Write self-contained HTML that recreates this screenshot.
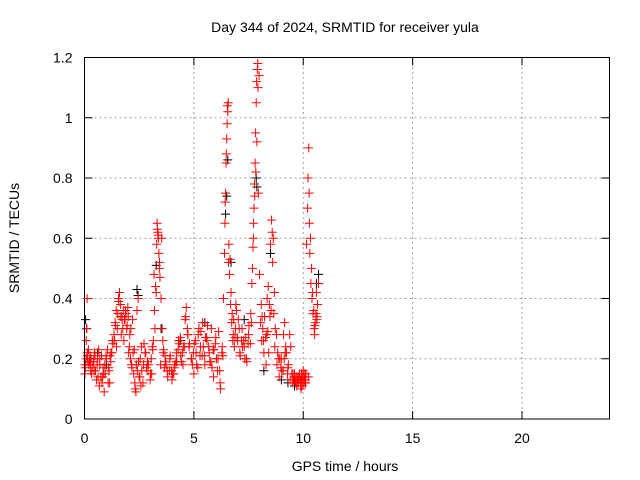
<!DOCTYPE html>
<html><head><meta charset="utf-8"><style>
body{margin:0;background:#fff;}
svg{display:block;font-family:"Liberation Sans",sans-serif;}
</style></head><body>
<svg id="chart" width="640" height="480">
<text x="345" y="32" text-anchor="middle" font-size="14">Day 344 of 2024, SRMTID for receiver yula</text>
<text x="345" y="471" text-anchor="middle" font-size="14">GPS time / hours</text>
<text transform="translate(19,238) rotate(-90)" text-anchor="middle" font-size="14">SRMTID / TECUs</text>
<g id="grid"></g><g id="ticks"></g><g id="pts"></g>
<rect x="84.5" y="57.5" width="525" height="361.5" fill="none" stroke="#000" stroke-width="1"/>
</svg>
<script>
const xTicks=[0,5,10,15,20];
const yTicks=[0,0.2,0.4,0.6,0.8,1,1.2];
const yTickLabels=["0","0.2","0.4","0.6","0.8","1","1.2"];
const redT=[0.02,0.05,0.08,0.1,0.12,0.15,0.2,0.25,0.3,0.35,0.4,0.45,0.5,0.55,0.6,0.65,0.7,0.75,0.8,0.85,0.9,0.95,1.0,1.05,1.1,1.15,1.2,1.25,1.3,1.35,1.4,1.45,1.5,1.55,1.6,1.65,1.7,1.75,1.8,1.85,1.9,1.95,2.0,2.05,2.1,2.15,2.2,2.25,2.3,2.35,2.4,2.45,2.5,2.55,2.6,2.7,2.8,2.9,3.0,3.05,3.1,3.15,3.2,3.25,3.3,3.32,3.35,3.38,3.4,3.42,3.45,3.5,3.55,3.6,3.65,3.7,3.8,3.9,4.0,4.1,4.2,4.3,4.4,4.5,4.6,4.65,4.7,4.8,4.9,5.0,5.1,5.2,5.3,5.4,5.5,5.6,5.7,5.8,5.9,6.0,6.1,6.2,6.3,6.35,6.4,6.42,6.45,6.47,6.5,6.52,6.55,6.57,6.6,6.65,6.7,6.75,6.8,6.85,6.9,6.95,7.0,7.1,7.2,7.3,7.4,7.5,7.6,7.65,7.7,7.72,7.75,7.77,7.8,7.82,7.85,7.87,7.9,7.92,7.95,8.0,8.05,8.1,8.15,8.2,8.3,8.35,8.4,8.45,8.5,8.55,8.58,8.6,8.65,8.7,8.8,8.9,9.0,9.1,9.15,9.2,9.3,9.4,9.5,9.6,9.7,9.8,9.9,10.0,10.05,10.1,10.15,10.2,10.22,10.25,10.28,10.3,10.35,10.4,10.45,10.5,10.55,10.6,10.65,10.7,
0.07,0.18,0.28,0.42,0.62,0.78,0.93,1.08,1.22,1.38,1.52,1.68,1.82,1.98,2.12,2.28,2.42,2.58,2.72,2.88,3.02,3.18,3.48,3.62,3.78,3.92,4.08,4.22,4.38,4.52,4.72,4.88,5.02,5.18,5.32,5.48,5.62,5.78,5.92,6.08,6.22,6.68,6.82,6.98,7.12,7.28,7.42,7.58,8.12,8.28,8.42,8.72,8.88,9.02,9.18,9.32,9.48,9.62,9.78,9.92,10.02,10.08,9.85,9.95,10.12,10.52,10.58,10.62,
0.03,0.13,0.23,0.33,0.48,0.58,0.68,0.83,0.98,1.12,1.27,1.42,1.57,1.72,1.87,2.02,2.17,2.32,2.47,2.62,2.77,2.92,3.07,3.22,3.33,3.37,3.43,3.58,3.73,3.88,4.03,4.18,4.33,4.48,4.63,4.78,4.93,5.08,5.23,5.38,5.53,5.68,5.83,5.98,6.13,6.28,6.43,6.48,6.53,6.58,6.63,6.73,6.88,7.03,7.18,7.33,7.48,7.63,7.68,7.73,7.78,7.83,7.88,7.93,7.98,8.08,8.23,8.38,8.53,8.63,8.78,8.93,9.08,9.23,9.38,9.53,9.58,9.68,9.73,9.83,9.88,9.93,9.97,10.03,10.07,10.11,10.23,10.27,10.33,10.38,10.43,10.48,10.53,10.63,
0.12,0.27,0.44,0.7,0.88,1.17,1.46,1.63,1.77,1.93,2.07,2.22,2.37,2.53,2.67,2.83,3.12,3.28,3.53,3.68,3.98,4.13,4.28,4.43,4.58,4.73,4.98,5.13,5.28,5.43,5.58,5.73,5.88,6.03,6.18,6.33,6.78,6.92,7.07,7.22,7.37,7.52,8.18,8.33,8.48,8.68,8.83,8.98,9.13,9.28,9.43,9.55,9.65,9.75,9.9,10.0,10.1];
const redV=[0.15,0.17,0.26,0.30,0.21,0.19,0.18,0.21,0.20,0.17,0.19,0.22,0.16,0.13,0.20,0.23,0.18,0.14,0.12,0.17,0.09,0.15,0.20,0.23,0.17,0.12,0.19,0.22,0.25,0.28,0.32,0.36,0.30,0.40,0.42,0.38,0.34,0.30,0.26,0.33,0.35,0.31,0.34,0.24,0.20,0.18,0.33,0.15,0.12,0.09,0.36,0.40,0.14,0.20,0.24,0.18,0.22,0.16,0.13,0.20,0.24,0.26,0.36,0.44,0.58,0.65,0.62,0.60,0.55,0.50,0.47,0.40,0.30,0.22,0.17,0.19,0.14,0.20,0.13,0.17,0.22,0.26,0.21,0.18,0.33,0.37,0.30,0.25,0.20,0.15,0.22,0.28,0.24,0.32,0.18,0.26,0.22,0.30,0.14,0.27,0.20,0.12,0.24,0.40,0.55,0.65,0.75,0.85,0.93,0.98,1.02,1.05,0.58,0.53,0.42,0.35,0.28,0.24,0.30,0.36,0.26,0.22,0.30,0.24,0.20,0.28,0.35,0.45,0.57,0.60,0.70,0.78,0.85,0.95,1.05,1.12,1.16,1.18,0.75,0.48,0.32,0.26,0.30,0.22,0.18,0.40,0.44,0.38,0.58,0.66,0.62,0.52,0.35,0.24,0.18,0.14,0.20,0.28,0.32,0.24,0.17,0.13,0.12,0.15,0.11,0.14,0.10,0.16,0.13,0.13,0.58,0.70,0.80,0.90,0.65,0.55,0.45,0.40,0.35,0.30,0.32,0.42,0.38,0.45,
0.20,0.23,0.16,0.19,0.14,0.21,0.18,0.12,0.22,0.26,0.35,0.28,0.33,0.37,0.30,0.23,0.16,0.11,0.25,0.19,0.15,0.48,0.18,0.23,0.16,0.21,0.15,0.19,0.27,0.24,0.28,0.20,0.25,0.17,0.29,0.21,0.31,0.19,0.23,0.16,0.10,0.38,0.33,0.27,0.21,0.26,0.19,0.25,0.34,0.27,0.22,0.30,0.20,0.16,0.22,0.18,0.15,0.14,0.12,0.15,0.12,0.14,0.13,0.11,0.15,0.28,0.35,0.33,
0.18,0.22,0.19,0.15,0.21,0.18,0.11,0.14,0.21,0.16,0.26,0.31,0.39,0.33,0.36,0.22,0.17,0.10,0.19,0.16,0.22,0.18,0.15,0.30,0.63,0.61,0.52,0.26,0.18,0.16,0.15,0.19,0.25,0.22,0.34,0.24,0.18,0.26,0.30,0.21,0.27,0.24,0.17,0.25,0.29,0.22,0.72,0.88,1.04,0.52,0.48,0.32,0.27,0.33,0.26,0.20,0.25,0.32,0.50,0.65,0.74,0.82,0.92,1.10,1.14,0.38,0.34,0.29,0.36,0.60,0.28,0.20,0.16,0.22,0.28,0.15,0.13,0.14,0.12,0.15,0.11,0.13,0.14,0.12,0.15,0.12,0.14,0.75,0.60,0.50,0.42,0.36,0.31,0.34,0.40,
0.19,0.16,0.20,0.15,0.21,0.24,0.34,0.36,0.30,0.28,0.22,0.18,0.14,0.12,0.17,0.23,0.42,0.60,0.21,0.16,0.18,0.23,0.19,0.24,0.28,0.22,0.18,0.21,0.24,0.27,0.19,0.23,0.20,0.16,0.21,0.26,0.38,0.30,0.24,0.27,0.31,0.26,0.28,0.34,0.42,0.22,0.17,0.20,0.15,0.24,0.13,0.12,0.14,0.13,0.15,0.12,0.14];
const blackT=[0.05,0.1,0.6,1.0,2.4,2.45,3.28,3.5,4.4,5.5,6.45,6.5,6.55,6.7,7.3,7.85,7.88,8.2,8.5,9.0,9.3,9.6,10.6,10.7];
const blackV=[0.33,0.30,0.22,0.18,0.43,0.41,0.51,0.30,0.26,0.32,0.68,0.74,0.86,0.52,0.33,0.80,0.77,0.16,0.55,0.13,0.12,0.11,0.45,0.48];
const X0=84.5,X1=609.5,Y0=419,Y1=57.5,XMAX=24,YMAX=1.2;
const sx=t=>X0+t/XMAX*(X1-X0);
const sy=v=>Y0-v/YMAX*(Y0-Y1);
const NS="http://www.w3.org/2000/svg";
const grid=document.getElementById('grid'),ticks=document.getElementById('ticks'),pts=document.getElementById('pts');
function mk(tag,attrs,parent){const e=document.createElementNS(NS,tag);for(const k in attrs)e.setAttribute(k,attrs[k]);parent.appendChild(e);return e;}
yTicks.forEach((v,i)=>{
  const y=sy(v);
  if(v>0&&v<YMAX){const g=mk('line',{x1:X0,x2:X1,y1:y,y2:y,stroke:'#a0a0a0','stroke-dasharray':'2,3'},grid);
  
  }
  mk('line',{x1:X0,x2:X0+8,y1:y,y2:y,stroke:'#000'},ticks);
  mk('line',{x1:X1,x2:X1-8,y1:y,y2:y,stroke:'#000'},ticks);
  const t=mk('text',{x:X0-12,y:y+5,'text-anchor':'end','font-size':'14'},ticks);
  t.textContent=yTickLabels[i];
  
  
});
xTicks.forEach(v=>{
  const x=sx(v);
  if(v>0){const g=mk('line',{x1:x,x2:x,y1:Y0,y2:Y1,stroke:'#a0a0a0','stroke-dasharray':'2,3'},grid);
  
  }
  mk('line',{x1:x,x2:x,y1:Y0,y2:Y0-8,stroke:'#000'},ticks);
  mk('line',{x1:x,x2:x,y1:Y1,y2:Y1+8,stroke:'#000'},ticks);
  const t=mk('text',{x:x,y:Y0+24,'text-anchor':'middle','font-size':'14'},ticks);
  t.textContent=String(v);
  
  
});
function plus(t,v,color,name){
  const x=sx(t),y=sy(v);
  const p=mk('path',{d:`M${x-4.5},${y}H${x+4.5}M${x},${y-4.5}V${y+4.5}`,stroke:color,'stroke-width':1,fill:'none'},pts);
  
  
}
blackT.forEach((t,i)=>plus(t,blackV[i],'#000','black-point'));
redT.forEach((t,i)=>plus(t,redV[i],'#ff0000','red-point'));
</script>
</body></html>
